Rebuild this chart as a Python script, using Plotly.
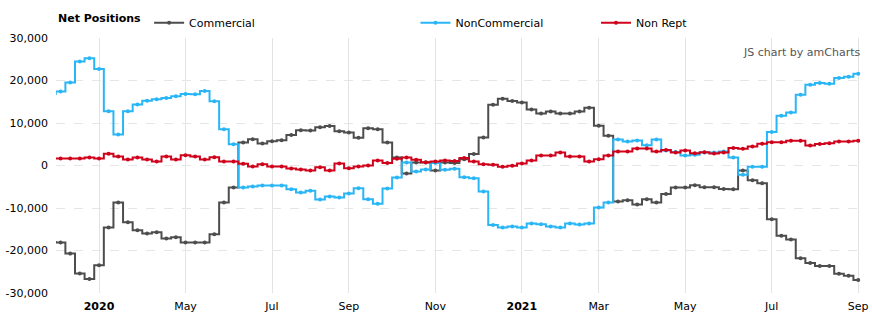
import pandas as pd
import plotly.graph_objects as go

# Weekly report dates (Tuesdays)
dates = pd.date_range("2020-01-28", periods=85, freq="7D")

commercial = [
    -18000, -18100, -20720, -25430, -26690, -23450, -14590, -8680, -13340, -15230,
    -16010, -15700, -17150, -16880, -18100, -18100, -18100, -16200, -8710, -5170,
    5410, 6150, 5150, 5700, 5950, 7200, 8280, 8250, 8980, 9270,
    8050, 7750, 6550, 8750, 8520, 5430, 1890, -1880, 710, 710,
    -1180, 710, 560, 1500, 2680, 6600, 14300, 15710, 15160, 14840,
    13200, 12260, 12730, 12260, 12260, 12730, 13590, 9350, 6990, -8490,
    -8170, -9190, -7930, -8720, -6680, -5180, -5180, -4640, -5110, -5110,
    -5500, -5580, -1180, -3460, -4170, -12650, -16500, -17440, -21830, -22930,
    -23640, -23640, -25450, -25920, -26940,
]

noncommercial = [
    16800, 17430, 19550, 24490, 25240, 22690, 12760, 7300, 12760, 14370,
    15260, 15580, 15860, 16290, 16800, 16760, 17540, 15120, 8520, 4990,
    -5170, -4930, -4700, -4700, -4700, -5570, -6350, -5960, -8000, -7300,
    -7530, -6590, -5330, -7920, -8980, -5410, -2820, 710, -1410, -930,
    560, -1010, -780, -2740, -2980, -6120, -13990, -14610, -14370, -14610,
    -13670, -13830, -14370, -14610, -13670, -13900, -13670, -9900, -8720, 6130,
    5660, 5890, 4790, 6130, 3540, 3150, 2360, 2510, 3070, 3070,
    3310, 1890, -2200, -310, -310, 7860, 11710, 12490, 16650, 19010,
    19390, 19230, 20570, 20880, 21590,
]

nonrept = [
    1650, 1650, 1650, 1650, 1890, 1650, 2760, 2130, 1420, 1890,
    1420, 950, 2130, 1420, 2440, 2130, 1420, 1930, 950, 950,
    400, -230, 320, -230, -230, -700, -940, -1180, -390, -1180,
    480, -620, -230, 0, 1190, 560, 1580, 1890, 1340, 790,
    950, 1190, 1030, 1740, 950, 320, 160, -310, -70, 480,
    1190, 2360, 2360, 3070, 2130, 2130, 950, 1500, 2360, 3310,
    3310, 4010, 4010, 3310, 3620, 3070, 3540, 2910, 3140, 2830,
    3070, 4090, 3930, 4480, 5110, 5500, 5500, 5820, 5820, 4710,
    5030, 5260, 5660, 5660, 5820,
]

series_names = ["Commercial", "NonCommercial", "Non Rept"]
series_colors = ["#4d4d4d", "#29b6f6", "#d0021b"]

x_tick_dates = ["2020-03-03", "2020-05-05", "2020-07-07", "2020-09-01", "2020-11-03",
                "2021-01-05", "2021-03-02", "2021-05-04", "2021-07-06", "2021-09-07"]
x_tick_labels = ["<b>2020</b>", "May", "Jul", "Sep", "Nov",
                 "<b>2021</b>", "Mar", "May", "Jul", "Sep"]

y_tick_vals = [-30000, -20000, -10000, 0, 10000, 20000, 30000]
y_tick_labels = ["-30,000", "-20,000", "-10,000", "0", "10,000", "20,000", "30,000"]

FONT = "Verdana, DejaVu Sans, sans-serif"

fig = go.Figure()
legends = ["legend", "legend2", "legend3"]
for name, vals, col, lg in zip(series_names, [commercial, noncommercial, nonrept], series_colors, legends):
    fig.add_trace(go.Scatter(
        x=dates, y=vals, name=name, mode="lines+markers",
        line=dict(color=col, width=2, shape="hvh"),
        marker=dict(color=col, size=4),
        legend=lg, showlegend=True,
    ))

legend_common = dict(orientation="h", yanchor="middle", y=1.060, xanchor="left",
                     bgcolor="rgba(0,0,0,0)", borderwidth=0,
                     font=dict(family=FONT, size=11, color="#000"),
                     itemclick=False, itemdoubleclick=False)

fig.update_layout(
    width=872, height=325,
    showlegend=True,
    margin=dict(l=56, r=10, t=38, b=32, autoexpand=False),
    paper_bgcolor="white", plot_bgcolor="white",
    font=dict(family=FONT, size=11, color="#000"),
    legend=dict(x=0.0, title=dict(text="<b>Net Positions</b>", side="left",
                                   font=dict(family=FONT, size=11, color="#000")),
                **legend_common),
    legend2=dict(x=0.446, **legend_common),
    legend3=dict(x=0.670, **legend_common),
    xaxis=dict(
        type="date",
        range=["2020-01-31 16:00", "2021-09-09 18:00"],
        tickmode="array", tickvals=x_tick_dates, ticktext=x_tick_labels,
        showgrid=True, gridcolor="#e3e3e3", gridwidth=1,
        zeroline=False, showline=False, ticks="", ticklabelstandoff=5,
        tickfont=dict(family=FONT, size=11, color="#000"),
    ),
    yaxis=dict(
        range=[-30000, 30000],
        tickmode="array", tickvals=y_tick_vals, ticktext=y_tick_labels,
        showgrid=True, gridcolor="#e6e6e6", gridwidth=1, griddash="dash",
        zeroline=False, showline=False, ticks="", ticklabelstandoff=7,
        tickfont=dict(family=FONT, size=11, color="#000"),
    ),
    annotations=[dict(
        text="JS chart by amCharts", xref="paper", yref="paper",
        x=1.0, y=0.945, xanchor="right", yanchor="middle", showarrow=False,
        font=dict(family=FONT, size=11, color="#555"),
    )],
)

fig.write_html("out.html")
